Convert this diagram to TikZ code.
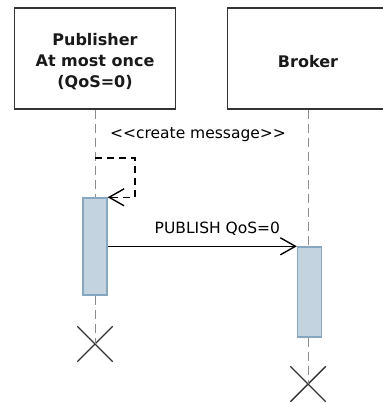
\documentclass[tikz,border=0pt]{standalone}
\usepackage{fontspec}
\setmainfont{DejaVu Sans}
\usepackage{xcolor}
\usetikzlibrary{arrows.meta,positioning,shapes.misc}
\definecolor{actfill}{HTML}{C3D3DF}
\definecolor{actdraw}{HTML}{87A7C0}
\definecolor{lifegray}{HTML}{8C8C8C}

\begin{document}
\begin{tikzpicture}[x=1pt, y=-1pt,
    actor/.style={rectangle, draw=black!80, line width=1.5pt, minimum width=161pt, minimum height=101pt, inner sep=0pt},
    actortext/.style={align=center, inner sep=0pt, text=black!90, font=\fontsize{16}{21}\selectfont\bfseries},
    activation/.style={rectangle, draw=actdraw, fill=actfill, line width=1.4pt, minimum width=24pt, inner sep=0pt},
    lifeline/.style={draw=lifegray, line width=1pt, dash pattern=on 9pt off 5pt},
    destroy/.style={cross out, draw=black!80, line width=1.4pt, minimum size=34pt, inner sep=0pt},
    msg/.style={-{Straight Barb[length=15pt,width=17pt]}, line width=1.4pt},
    label/.style={font=\fontsize{15.5}{18}\selectfont, text=black, inner sep=0pt}
]
\useasboundingbox (0,0) rectangle (382,403);

% participants
\node[actor] (pub) at (95,58.5) {};
\node[actor] (brk) at (308,58.5) {};
\node[actortext] (pubtext) at (95,61.5) {Publisher\\At most once\\(QoS=0)};
\node[actortext] (brktext) at (308,61.5) {Broker};

% activations and ends
\node[activation, minimum height=97pt] (pubact) at (95,246.5) {};
\node[activation, minimum height=90pt] (brkact) at (309.5,292) {};
\node[destroy] (pubend) at (95,344) {};
\node[destroy] (brkend) at (308,384) {};

% lifelines
\draw[lifeline] (pub.south) -- (pubact.north);
\draw[lifeline] (pubact.south) -- (pubend.center);
\draw[lifeline] (brk.south) -- (brkact.north -| brk.south);
\draw[lifeline] (brkact.south -| brk.south) -- (brkend.center);

% messages
\coordinate (selfstart) at (95,158);
\node[label] (create) at (198,135) {<{}<create message>{}>};
\draw[msg, dash pattern=on 7pt off 5pt] (selfstart) -- ++(40,0) |- (pubact.north east);
\draw[msg] (pubact.east |- brkact.north west) -- node[label, pos=0.58, above=10pt] {PUBLISH QoS=0} (brkact.north west);

\end{tikzpicture}
\end{document}
